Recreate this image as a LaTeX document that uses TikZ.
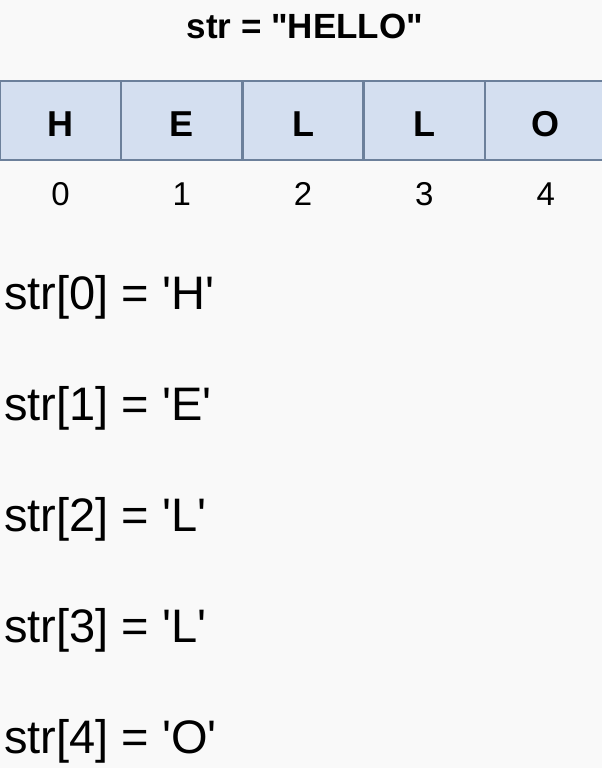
\documentclass[tikz,border=0pt]{standalone}
\usepackage{fontspec}
\setmainfont{Liberation Sans}
\usetikzlibrary{positioning}
\definecolor{cellfill}{RGB}{212,223,240}
\definecolor{celldraw}{RGB}{108,128,155}
\definecolor{pagebg}{RGB}{249,249,249}
\newcommand{\q}{\textquotesingle}

\begin{document}
\begin{tikzpicture}[x=1pt, y=-1pt, node distance=0pt,
    cell/.style={draw=celldraw, fill=cellfill, line width=1.3pt, rectangle, minimum width=120pt, minimum height=79pt, inner sep=0pt, text height=31pt, text depth=0pt, font=\fontsize{36}{40}\selectfont\bfseries},
    idx/.style={inner sep=0pt, font=\fontsize{33}{36}\selectfont},
    access/.style={anchor=base west, inner sep=0pt, font=\fontsize{47}{52}\selectfont}]
        \fill [pagebg] (0,0) rectangle (602,768);
        \useasboundingbox (0,0) rectangle (602,768);

        \node [anchor=base, inner sep=0pt, font=\fontsize{35}{38}\selectfont\bfseries] (title) at (305,38) {str = \textquotedbl HELLO\textquotedbl};

        \node [cell] (cell0) at (60.5,120.5) {H};
        \node [cell, right=of cell0] (cell1) {E};
        \node [cell, right=of cell1] (cell2) {L};
        \node [cell, right=of cell2] (cell3) {L};
        \node [cell, right=of cell3] (cell4) {O};

        \node [idx, below=22pt of cell0] (idx0) {0};
        \node [idx, below=22pt of cell1] (idx1) {1};
        \node [idx, below=22pt of cell2] (idx2) {2};
        \node [idx, below=22pt of cell3] (idx3) {3};
        \node [idx, below=22pt of cell4] (idx4) {4};

        \node [access] (acc0) at (4,309) {str[0] = \q H\q};
        \node [access] (acc1) at (4,420) {str[1] = \q E\q};
        \node [access] (acc2) at (4,531) {str[2] = \q L\q};
        \node [access] (acc3) at (4,642) {str[3] = \q L\q};
        \node [access] (acc4) at (4,753) {str[4] = \q O\q};
    \end{tikzpicture}
\end{document}
